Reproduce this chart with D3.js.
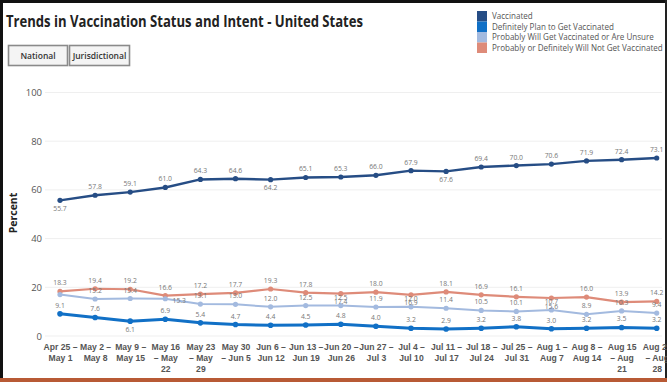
<!DOCTYPE html>
<html>
<head>
<meta charset="utf-8">
<script src="https://cdn.jsdelivr.net/npm/d3@7"></script>
<style>
  html, body { margin: 0; padding: 0; background: #fff; }
  svg { display: block; font-family: "Open Sans", "Noto Sans", sans-serif; }
</style>
</head>
<body>
<svg id="chart" width="667" height="382"></svg>
<script>
// Weekly survey periods (line breaks mark how each axis label wraps)
const categories = [
  "Apr 25 –\nMay 1", "May 2 –\nMay 8", "May 9 –\nMay 15", "May 16\n– May\n22",
  "May 23\n– May\n29", "May 30\n– Jun 5", "Jun 6 –\nJun 12", "Jun 13 –\nJun 19",
  "Jun 20 –\nJun 26", "Jun 27 –\nJul 3", "Jul 4 –\nJul 10", "Jul 11 –\nJul 17",
  "Jul 18 –\nJul 24", "Jul 25 –\nJul 31", "Aug 1 –\nAug 7", "Aug 8 –\nAug 14",
  "Aug 15\n– Aug\n21", "Aug 22\n– Aug\n28"
];

const vaccinated = [55.7, 57.8, 59.1, 61.0, 64.3, 64.6, 64.2, 65.1, 65.3, 66.0, 67.9, 67.6, 69.4, 70.0, 70.6, 71.9, 72.4, 73.1];
const definitelyPlan = [9.1, 7.6, 6.1, 6.9, 5.4, 4.7, 4.4, 4.5, 4.8, 4.0, 3.2, 2.9, 3.2, 3.8, 3.0, 3.2, 3.5, 3.2];
const probablyUnsure = [17.0, 15.2, 15.4, 15.3, 13.1, 13.0, 12.0, 12.5, 12.5, 11.9, 12.0, 11.4, 10.5, 10.1, 10.7, 8.9, 10.3, 9.4];
const willNot = [18.3, 19.4, 19.2, 16.6, 17.2, 17.7, 19.3, 17.8, 17.4, 18.0, 16.9, 18.1, 16.9, 16.1, 15.6, 16.0, 13.9, 14.2];

const seriesNames = [
  "Vaccinated",
  "Definitely Plan to Get Vaccinated",
  "Probably Will Get Vaccinated or Are Unsure",
  "Probably or Definitely Will Not Get Vaccinated"
];
const yTicks = [0, 20, 40, 60, 80, 100];

// Presentation settings for each series
const seriesStyle = [
  { values: vaccinated,     color: "#264d85", width: 2.4, r: 2.6 },
  { values: definitelyPlan, color: "#1170c6", width: 3.0, r: 2.8 },
  { values: probablyUnsure, color: "#a3badf", width: 2.0, r: 2.6 },
  { values: willNot,        color: "#de8b79", width: 2.2, r: 2.6 }
];
// Data-label placement: default is above the point; exceptions listed here
const labelBelow = { "0-0": 1, "0-6": 1, "0-11": 1, "1-2": 1, "3-8": 1, "3-10": 1, "3-14": 1 };
const labelHidden = { "2-0": 1 };
const labelShift = { "2-3": [14, 10] };

const svg = d3.select("#chart");

// Frame
svg.append("rect").attr("x", 0).attr("y", 0).attr("width", 667).attr("height", 3).attr("fill", "#111");
svg.append("rect").attr("x", 0).attr("y", 0).attr("width", 3).attr("height", 382).attr("fill", "#111");
svg.append("rect").attr("x", 665).attr("y", 0).attr("width", 2).attr("height", 382).attr("fill", "#222");
svg.append("rect").attr("x", 0).attr("y", 378).attr("width", 667).attr("height", 4).attr("fill", "#b85a35");

// Title
svg.append("text")
  .attr("x", 6).attr("y", 27)
  .attr("font-size", 15.5).attr("font-weight", 700).attr("fill", "#222")
  .attr("textLength", 357).attr("lengthAdjust", "spacingAndGlyphs")
  .text("Trends in Vaccination Status and Intent - United States");

// Buttons
const buttons = [{ label: "National", x: 8, w: 59 }, { label: "Jurisdictional", x: 69, w: 60 }];
buttons.forEach(b => {
  svg.append("rect").attr("x", b.x + 0.5).attr("y", 45.5).attr("width", b.w).attr("height", 20)
    .attr("fill", "#f4f4f4").attr("stroke", "#8a8a8a").attr("stroke-width", 1.6);
  svg.append("text").attr("x", b.x + b.w / 2 + 0.5).attr("y", 59).attr("text-anchor", "middle")
    .attr("font-size", 8.5).attr("font-weight", 600).attr("fill", "#333").text(b.label);
});

// Legend (text scaled so the longest entry fits the space at the right)
const legend = svg.append("g").attr("transform", "translate(477,11)");
const legendTexts = [];
seriesNames.forEach((name, i) => {
  legend.append("rect").attr("x", 0).attr("y", i * 10.5).attr("width", 10).attr("height", 10.5)
    .attr("fill", seriesStyle[i].color);
  legendTexts.push(legend.append("text").attr("x", 15).attr("y", i * 10.5 + 8.3)
    .attr("font-size", 8.6).attr("fill", "#555").text(name));
});
const widest = d3.max(legendTexts, t => t.node().getComputedTextLength());
const legendSize = Math.min(8.6, 8.6 * 171 / widest);
legendTexts.forEach(t => t.attr("font-size", legendSize));

// Scales
const x = d3.scalePoint().domain(d3.range(categories.length)).range([60, 656.7]);
const y = d3.scaleLinear().domain([0, 100]).range([336, 92.5]);

// Gridlines
svg.append("g").selectAll("line").data(yTicks).join("line")
  .attr("x1", 45).attr("x2", 662)
  .attr("y1", d => y(d)).attr("y2", d => y(d))
  .attr("stroke", "#efefef").attr("stroke-width", 1);

// Y axis
const yAxis = svg.append("g").attr("transform", "translate(42,0)")
  .call(d3.axisLeft(y).tickValues(yTicks).tickSize(0).tickPadding(0).tickFormat(d3.format("d")));
yAxis.select(".domain").remove();
yAxis.selectAll("text").attr("font-size", 9.5).attr("fill", "#555").attr("font-family", "Open Sans, sans-serif");

svg.append("text")
  .attr("transform", "translate(17,213) rotate(-90)")
  .attr("text-anchor", "middle").attr("font-size", 10.5).attr("font-weight", 700).attr("fill", "#222")
  .text("Percent");

// X axis labels
const xAxis = svg.append("g").attr("transform", "translate(0,340)")
  .call(d3.axisBottom(x).tickSize(0).tickFormat(() => ""));
xAxis.select(".domain").remove();
xAxis.selectAll(".tick").each(function (d) {
  const t = d3.select(this).append("text")
    .attr("text-anchor", "middle").attr("font-size", 8.6).attr("font-weight", 600)
    .attr("fill", "#555").attr("y", 10);
  categories[d].split("\n").forEach((line, k) => {
    t.append("tspan").attr("x", 0).attr("dy", k === 0 ? 0 : 11).text(line);
  });
});

// Lines, markers and data labels (drawn bottom series first)
const line = d3.line().x((d, i) => x(i)).y(d => y(d));
const order = [3, 2, 1, 0];
order.forEach(s => {
  const st = seriesStyle[s];
  const g = svg.append("g");
  g.append("path").datum(st.values)
    .attr("d", line).attr("fill", "none").attr("stroke", st.color)
    .attr("stroke-width", st.width).attr("stroke-linejoin", "round");
  g.selectAll("circle").data(st.values).join("circle")
    .attr("cx", (d, i) => x(i)).attr("cy", d => y(d)).attr("r", st.r).attr("fill", st.color);
});
order.forEach(s => {
  const st = seriesStyle[s];
  svg.append("g").selectAll("text").data(st.values).join("text")
    .attr("display", (d, i) => labelHidden[s + "-" + i] ? "none" : null)
    .attr("x", (d, i) => x(i) + ((labelShift[s + "-" + i] || [0, 0])[0]))
    .attr("y", (d, i) => {
      const key = s + "-" + i;
      const base = labelBelow[key] ? y(d) + 10.5 : y(d) - 6;
      return base + ((labelShift[key] || [0, 0])[1]);
    })
    .attr("text-anchor", "middle").attr("font-size", 6.8).attr("fill", "#777")
    .text(d => d.toFixed(1));
});
</script>
</body>
</html>
